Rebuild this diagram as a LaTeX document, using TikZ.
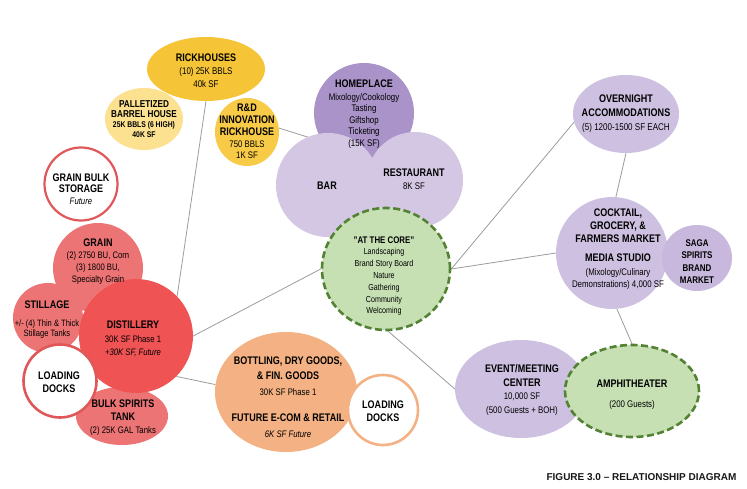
\documentclass[tikz,border=0pt]{standalone}
\usepackage{fontspec}
\setmainfont{Liberation Sans}[FakeStretch=0.82]
\newfontfamily\titlefont{Liberation Sans}
\usetikzlibrary{shapes.geometric,backgrounds}
\definecolor{ylw}{HTML}{F5C537}
\definecolor{ylwL}{HTML}{FBE190}
\definecolor{ylwR}{HTML}{F7CA47}
\definecolor{purD}{HTML}{A993C8}
\definecolor{lav}{HTML}{D4C7E4}
\definecolor{lav2}{HTML}{CEC0E1}
\definecolor{sagac}{HTML}{C8B8DD}
\definecolor{grn}{HTML}{C6E0B4}
\definecolor{grnD}{HTML}{548235}
\definecolor{redL}{HTML}{EC7474}
\definecolor{redD}{HTML}{EF5353}
\definecolor{redR}{HTML}{E0575A}
\definecolor{org}{HTML}{F4B183}
\definecolor{lnc}{HTML}{9C9C9C}
\newcommand\HD{\bfseries\fontsize{11}{12}\selectfont}
\newcommand\HDs{\bfseries\fontsize{10}{11}\selectfont}
\begin{document}
\begin{tikzpicture}[x=1pt,y=-1pt,
  circ/.style={circle,inner sep=0pt,minimum size=#1},
  ell/.style 2 args={ellipse,inner sep=0pt,minimum width=#1,minimum height=#2},
  ring/.style={fill=white,draw=#1,line width=2.6pt},
  dashring/.style={fill=grn,draw=grnD,line width=2.6pt,dash pattern=on 7pt off 3.5pt},
  txt/.style={align=center,inner sep=0pt,text=black},
  ln/.style={draw=lnc,line width=0.8pt}]
\useasboundingbox (0,0) rectangle (747,489);
% shapes
\node[ell={78}{62},fill=ylwL] (pall) at (144,119) {};
\node[ell={118}{64},fill=ylw] (rick) at (206,69) {};
\node[ell={64}{68},fill=ylwR] (rd) at (247,132) {};
\node[circ=100,fill=purD] (home) at (364,113) {};
\node[circ=104,fill=lav] (bar) at (328,185) {};
\node[circ=96,fill=lav] (rest) at (415,180) {};
\node[ell={128}{122},dashring] (core) at (386,269) {};
\node[ell={106}{78},fill=lav2] (over) at (626,114) {};
\node[circ=112,fill=lav2] (cock) at (612,253) {};
\node[ell={70}{66},fill=sagac] (saga) at (697,258) {};
\node[ell={132}{98},fill=lav2] (event) at (521,389) {};
\node[ell={134}{92},dashring] (amph) at (632,391) {};
\node[ell={142}{120},fill=org] (bott) at (286,392) {};
\node[circ=70,ring=org] (ldr) at (383,410) {};
\node[circ=73,ring=redR,line width=2.2pt] (gbs) at (81,184) {};
\node[circ=90,fill=redL] (grain) at (98,268) {};
\node[circ=70,fill=redL] (still) at (48,318) {};
\node[ell={92}{58},fill=redL] (bulk) at (122,416) {};
\node[circ=114,fill=redD] (dist) at (136,336) {};
\node[circ=73,ring=redR] (ldl) at (60,381) {};
% texts
\node[txt,font=\fontsize{9.7}{13}\selectfont] (trick) at (206,70.5) {{\HD RICKHOUSES}\\(10) 25K BBLS\\40k SF};
\node[txt,font=\bfseries\fontsize{8.3}{9.7}\selectfont] (tpall) at (144,119) {{\HDs PALLETIZED}\\[1.2pt]{\HDs BARREL HOUSE}\\[0.3pt]25K BBLS (6 HIGH)\\40K SF};
\node[txt,font=\fontsize{9.5}{11.8}\selectfont] (trd) at (247,131.5) {{\bfseries\fontsize{11}{11}\selectfont R\&D}\\{\bfseries\fontsize{11}{11}\selectfont INNOVATION}\\{\bfseries\fontsize{11}{11}\selectfont RICKHOUSE}\\750 BBLS\\1K SF};
\node[txt,font=\fontsize{9.6}{11.4}\selectfont] (thome) at (364,114) {{\HD HOMEPLACE}\\[1.5pt]Mixology/Cookology\\Tasting\\Giftshop\\Ticketing\\(15K SF)};
\node[txt] (tbar) at (327,185.5) {\HD BAR};
\node[txt,font=\fontsize{9.6}{13}\selectfont] (trest) at (414,179) {{\HD RESTAURANT}\\8K SF};
\node[txt,font=\fontsize{8.7}{11.8}\selectfont] (tcore) at (384,276) {{\bfseries\fontsize{9.6}{11}\selectfont "AT THE CORE"}\\Landscaping\\Brand Story Board\\Nature\\Gathering\\Community\\Welcoming};
\node[txt,font=\fontsize{9.8}{14}\selectfont] (tover) at (626,114) {{\HD OVERNIGHT}\\{\HD ACCOMMODATIONS}\\(5) 1200-1500 SF EACH};
\node[txt,font=\fontsize{9.6}{13.3}\selectfont] (tcock) at (618,249) {{\HD COCKTAIL,}\\{\HD GROCERY, \&}\\{\HD FARMERS MARKET}\\[6pt]{\HD MEDIA STUDIO}\\(Mixology/Culinary\\[-1pt]Demonstrations) 4,000 SF};
\node[txt,font=\bfseries\fontsize{9.7}{12.4}\selectfont] (tsaga) at (697,261.5) {SAGA\\SPIRITS\\BRAND\\MARKET};
\node[txt,font=\fontsize{9.6}{13.7}\selectfont] (tevent) at (522,390) {{\HD EVENT/MEETING}\\{\HD CENTER}\\10,000 SF\\(500 Guests + BOH)};
\node[txt,font=\fontsize{9.6}{20}\selectfont] (tamph) at (632,395) {{\HD AMPHITHEATER}\\(200 Guests)};
\node[txt,font=\fontsize{9.5}{15.5}\selectfont] (tbott) at (288,397) {{\HD BOTTLING, DRY GOODS,}\\{\HD \& FIN. GOODS}\\30K SF Phase 1\\[11pt]{\HD FUTURE E-COM \& RETAIL}\\\itshape 6K SF Future};
\node[txt,font=\fontsize{9}{13}\selectfont] (tldr) at (383,411.5) {{\HD LOADING}\\{\HD DOCKS}};
\node[txt,font=\fontsize{9.5}{11.5}\selectfont] (tgbs) at (81,189) {{\HD GRAIN BULK}\\{\HD STORAGE}\\\itshape Future};
\node[txt,font=\fontsize{9.4}{12}\selectfont] (tgrain) at (98,261.5) {{\HD GRAIN}\\(2) 2750 BU, Corn\\(3) 1800 BU,\\Specialty Grain};
\node[txt,font=\fontsize{9.2}{10}\selectfont] (tstill) at (47,319.5) {{\HD STILLAGE}\\[8pt]+/- (4) Thin \& Thick\\Stillage Tanks};
\node[txt,font=\fontsize{9.4}{13.5}\selectfont] (tdist) at (133,339) {{\HD DISTILLERY}\\30K SF Phase 1\\\itshape +30K SF, Future};
\node[txt,font=\fontsize{9}{13}\selectfont] (tldl) at (59,382) {{\HD LOADING}\\{\HD DOCKS}};
\node[txt,font=\fontsize{9.5}{13}\selectfont] (tbulk) at (123,417.5) {{\HD BULK SPIRITS}\\{\HD TANK}\\(2) 25K GAL Tanks};
\node[txt,font=\titlefont\bfseries\fontsize{10}{12}\selectfont,text=black!90] (title) at (641.5,477) {FIGURE 3.0 – RELATIONSHIP DIAGRAM};
% connectors
\begin{pgfonlayer}{background}
\fill[white] (0,0) rectangle (747,489);
\draw[ln] (dist.44) -- (rick.south);
\draw[ln] (rd.7) -- (home.215);
\draw[ln] (dist.east) -- (core.west);
\draw[ln] (dist.-45) -- (bott.174);
\draw[ln] (core.-88) -- (event.west);
\draw[ln] (core.east) -- (over.189);
\draw[ln] (core.east) -- (cock.west);
\draw[ln] (over.south) -- (cock.86);
\draw[ln] (cock.-85) -- (amph.north);
\end{pgfonlayer}
\end{tikzpicture}
\end{document}
